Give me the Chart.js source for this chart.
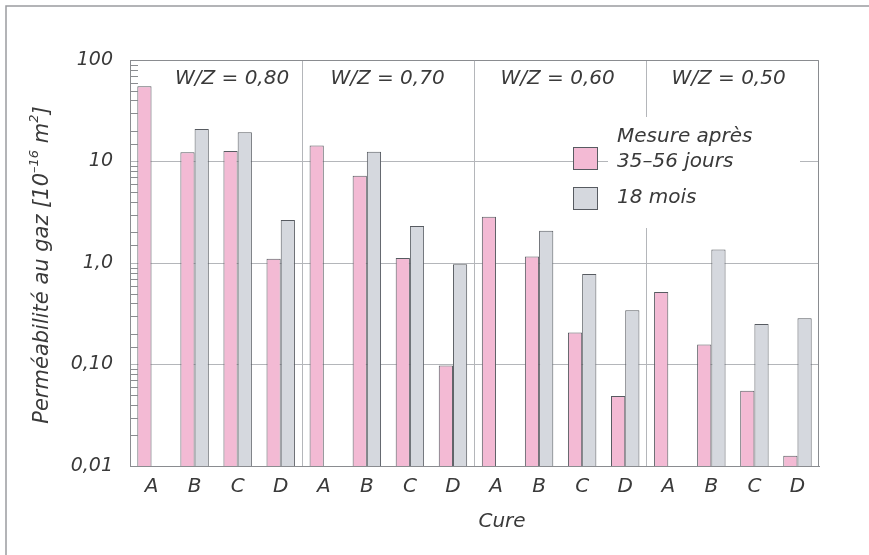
<!DOCTYPE html>
<html>
<head>
<meta charset="utf-8">
<script src="https://cdn.jsdelivr.net/npm/chart.js@4/dist/chart.umd.min.js"></script>
<style>
    body { margin: 0; background: #fff; }
    #wrap { width: 869px; height: 555px; position: relative; }
</style>
</head>
<body>
<div id="wrap"><canvas id="permChart"></canvas></div>
<script>
const categories = ["A", "B", "C", "D", "A", "B", "C", "D", "A", "B", "C", "D", "A", "B", "C", "D"];
const shortCure = [55, 12.3, 12.7, 1.10, 14.4, 7.25, 1.12, 0.0975, 2.86, 1.16, 0.207, 0.049, 0.518, 0.157, 0.0552, 0.0126];
const longCure = [null, 20.9, 19.4, 2.65, null, 12.5, 2.32, 0.97, null, 2.08, 0.78, 0.342, null, 1.36, 0.251, 0.285];
const groupLabels = ["W/Z = 0,80", "W/Z = 0,70", "W/Z = 0,60", "W/Z = 0,50"];
const yTickValues = [100, 10, 1, 0.1, 0.01];
const yTickLabels = ["100", "10", "1,0", "0,10", "0,01"];

const FONT = "'DejaVu Sans', 'Noto Sans', sans-serif";
const TEXT = "#3a3a3a";
const PINK = "#f3bad4";
const GREY = "#d5d8de";
const EDGE = "#575b61";
const GRID = "#b4b6ba";

function majorIndex(v) {
    return yTickValues.findIndex(t => Math.abs(Math.log10(v) - Math.log10(t)) < 1e-6);
}

// extra drawing: frame, plot border, minor ticks, group titles, legend, axis titles
const decorations = {
    id: "decorations",
    afterDraw(chart) {
        const c = chart.ctx;
        const a = chart.chartArea;
        const x = chart.scales.x;
        const y = chart.scales.y;
        c.save();

        // outer frame (top + left)
        c.strokeStyle = "#9a9ca0";
        c.lineWidth = 1.5;
        c.beginPath();
        c.moveTo(6, 555);
        c.lineTo(6, 6);
        c.lineTo(869, 6);
        c.stroke();

        // top and right border of plot
        c.strokeStyle = "#8a8c90";
        c.lineWidth = 1;
        c.beginPath();
        c.moveTo(a.left, a.top + 0.5);
        c.lineTo(a.right - 0.5, a.top + 0.5);
        c.lineTo(a.right - 0.5, a.bottom);
        c.stroke();

        // minor ticks inside the plot
        y.ticks.forEach(t => {
            if (majorIndex(t.value) >= 0) return;
            const py = Math.round(y.getPixelForValue(t.value)) + 0.5;
            c.beginPath();
            c.moveTo(a.left, py);
            c.lineTo(a.left + 8, py);
            c.stroke();
        });

        // group titles
        const groupPos = [1.87, 5.48, 9.43, 13.4];
        c.fillStyle = TEXT;
        c.font = "oblique 20px " + FONT;
        c.textAlign = "center";
        c.textBaseline = "middle";
        groupLabels.forEach((lbl, i) => {
            c.fillText(lbl, x.getPixelForValue(groupPos[i]), 79);
        });

        // legend
        c.fillStyle = "#fff";
        c.fillRect(608, 117, 192, 111);
        c.lineWidth = 1;
        c.strokeStyle = EDGE;
        c.fillStyle = PINK;
        c.fillRect(573, 147, 24, 22);
        c.strokeRect(573.5, 147.5, 24, 22);
        c.fillStyle = GREY;
        c.fillRect(573, 187, 24, 22);
        c.strokeRect(573.5, 187.5, 24, 22);
        c.fillStyle = TEXT;
        c.textAlign = "left";
        c.fillText("Mesure après", 617, 137);
        c.fillText("35–56 jours", 617, 162);
        c.fillText("18 mois", 617, 198);

        // x title
        c.textAlign = "center";
        c.fillText("Cure", 502, 522);

        // y title with superscripts
        c.translate(43, 265);
        c.rotate(-Math.PI / 2);
        const big = "oblique 21px " + FONT;
        const small = "oblique 13px " + FONT;
        const parts = [
            ["Perméabilité au gaz [10", big, 0],
            ["–16", small, -8],
            [" m", big, 0],
            ["2", small, -8],
            ["]", big, 0]
        ];
        let total = 0;
        parts.forEach(p => { c.font = p[1]; total += c.measureText(p[0]).width; });
        let px = -total / 2;
        c.textAlign = "left";
        parts.forEach(p => {
            c.font = p[1];
            c.fillText(p[0], px, p[2]);
            px += c.measureText(p[0]).width;
        });
        c.restore();
    }
};

const ctx = document.getElementById("permChart").getContext("2d");

new Chart(ctx, {
    type: "bar",
    data: {
        labels: categories,
        datasets: [
            {
                label: "Mesure après 35–56 jours",
                data: shortCure,
                backgroundColor: PINK,
                borderColor: EDGE,
                borderWidth: 1,
            },
            {
                label: "18 mois",
                data: longCure,
                backgroundColor: GREY,
                borderColor: EDGE,
                borderWidth: 1,
            },
        ],
    },
    options: {
        responsive: true,
        maintainAspectRatio: false,
        animation: false,
        layout: {
            padding: { top: 60, right: 50, left: 0, bottom: 0 },
        },
        datasets: {
            bar: {
                categoryPercentage: 0.66,
                barPercentage: 1,
            },
        },
        plugins: {
            legend: { display: false },
            tooltip: { enabled: false },
        },
        scales: {
            x: {
                offset: true,
                afterFit: (s) => { s.height = 89; },
                grid: {
                    offset: true,
                    drawTicks: false,
                    color: (c) => (c.index > 0 && c.index < 16 && c.index % 4 === 0) ? GRID : "rgba(0,0,0,0)",
                },
                border: { color: "#8a8c90" },
                ticks: {
                    color: TEXT,
                    padding: 9,
                    font: { family: FONT, size: 20, style: "oblique" },
                },
            },
            y: {
                type: "logarithmic",
                min: 0.01,
                max: 100,
                afterFit: (s) => { s.width = 130; },
                grid: {
                    drawTicks: false,
                    color: (c) => (c.tick && majorIndex(c.tick.value) >= 0) ? GRID : "rgba(0,0,0,0)",
                },
                border: { color: "#8a8c90" },
                ticks: {
                    autoSkip: false,
                    color: TEXT,
                    padding: 17,
                    font: { family: FONT, size: 19, style: "oblique" },
                    callback: (v) => {
                        const i = majorIndex(v);
                        return i >= 0 ? yTickLabels[i] : "";
                    },
                },
            },
        },
    },
    plugins: [decorations],
});
</script>
</body>
</html>
